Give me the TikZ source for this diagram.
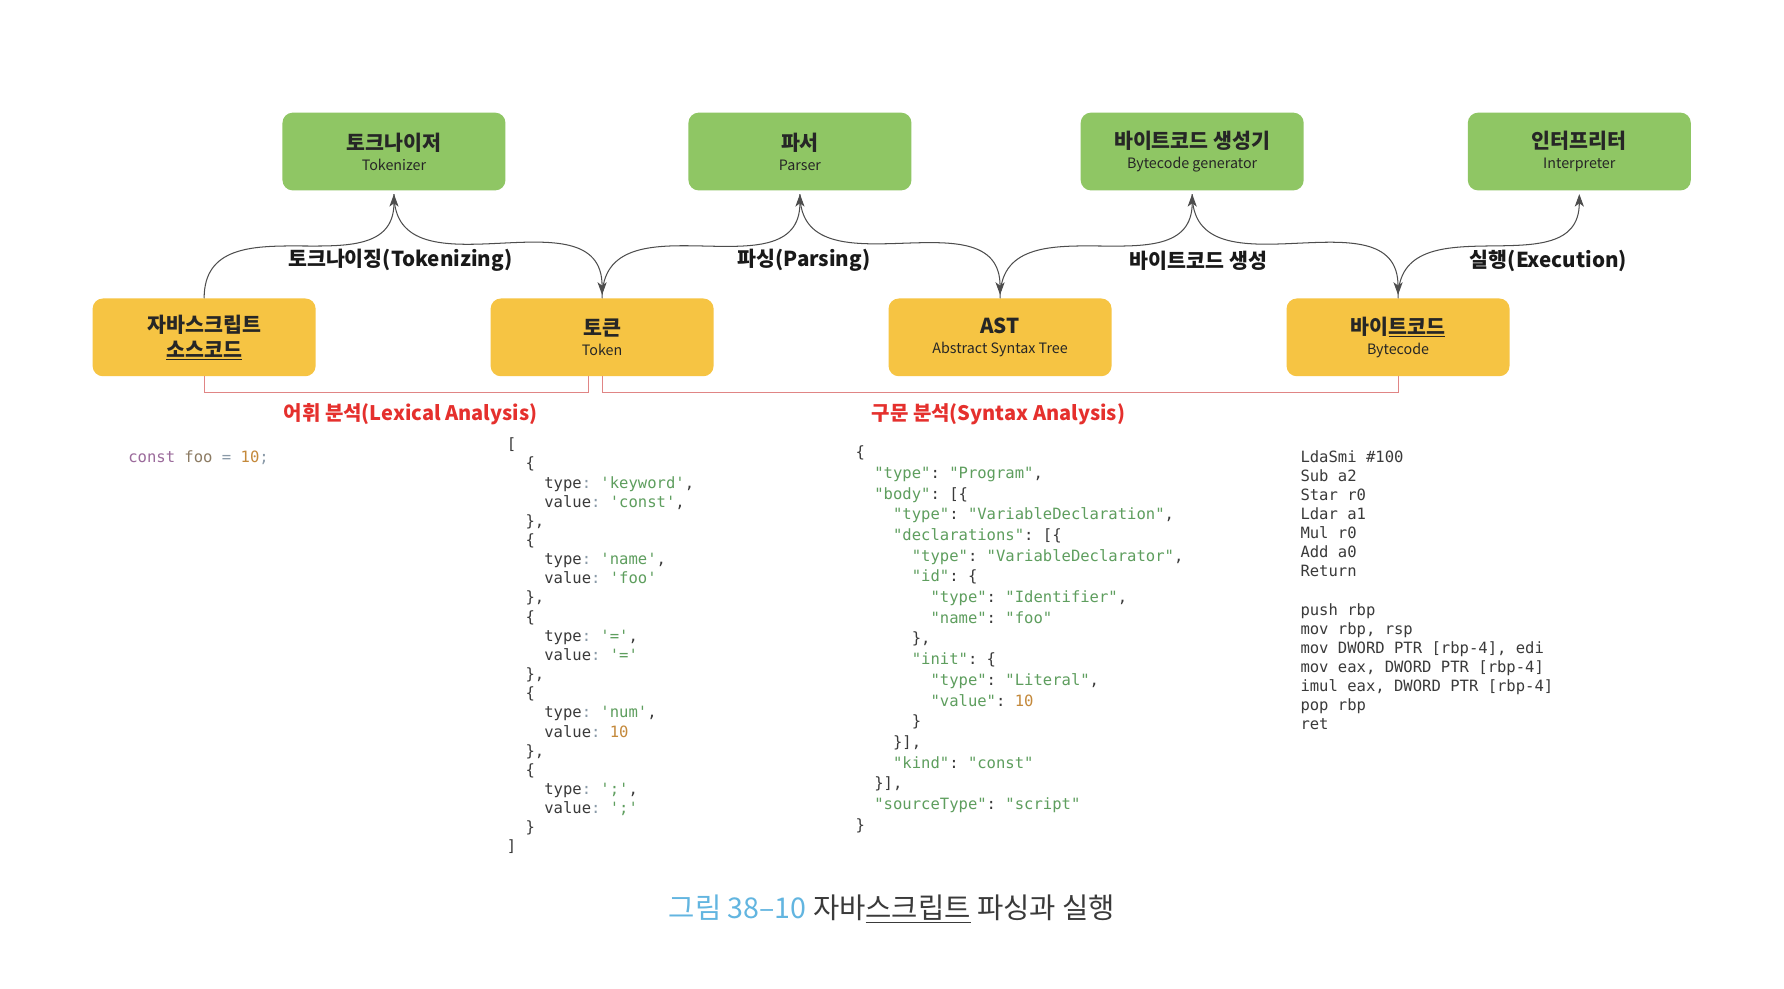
\documentclass[tikz,border=0pt]{standalone}
\usepackage{fontspec}
\setmainfont{Noto Sans CJK KR}
\setmonofont{DejaVu Sans Mono}
\usetikzlibrary{arrows.meta}
\definecolor{gboxc}{HTML}{8FC664}
\definecolor{yboxc}{HTML}{F6C443}
\definecolor{arrc}{HTML}{4D4D4D}
\definecolor{brkc}{HTML}{E08585}
\definecolor{redc}{HTML}{E5302D}
\definecolor{capblue}{HTML}{62B5E0}
\definecolor{captext}{HTML}{3A3A3A}
\definecolor{codec}{HTML}{3A3A3A}
\definecolor{cgreen}{HTML}{5E9E5E}
\definecolor{corange}{HTML}{C4893B}
\definecolor{cpurple}{HTML}{9B6A9B}
\definecolor{cfoo}{HTML}{8C7B63}
\definecolor{cgray}{HTML}{8A9AA8}
\newcommand\boxtitle[1]{{\fontsize{18}{18}\selectfont\bfseries #1}}
\newcommand\thinul[1]{\leavevmode\vtop{\hbox{#1}\kern1.2pt\hrule height 0.7pt}}
\newcommand\ind[1]{\hspace*{#1\fontcharwd\font`x}}
\newcommand\gs[1]{\textcolor{cgreen}{#1}}
\newcommand\os[1]{\textcolor{corange}{#1}}
\newcommand\cl{\textcolor{cgray}{:}}
\begin{document}
\begin{tikzpicture}[x=1pt,y=-1pt,
  boxbase/.style={rounded corners=9pt, minimum width=195pt, minimum height=68pt,
    inner sep=0pt, align=center, text=black!85, font=\fontsize{12.5}{17.5}\selectfont},
  gbox/.style={boxbase, fill=gboxc},
  ybox/.style={boxbase, fill=yboxc},
  flow/.style={draw=arrc, line width=0.9pt, -{Stealth[length=11pt,width=8pt,inset=3pt]},
    shorten >=3pt, looseness=1.2},
  steplabel/.style={font=\fontsize{18}{18}\selectfont\bfseries, text=black!90, inner sep=0pt},
  brk/.style={draw=brkc, line width=0.9pt},
  redlabel/.style={font=\fontsize{17.5}{18}\selectfont\bfseries, text=redc, inner sep=0pt},
  codeblk/.style={anchor=north west, inner sep=0pt, align=left, text=codec}
]
\fill[white] (0,0) rectangle (1560,864);
\useasboundingbox (0,0) rectangle (1560,864);

% top (green) boxes
\node[gbox] (tkz) at (344.5,132.5) {\boxtitle{토크나이저}\\Tokenizer};
\node[gbox] (psr) at (699.5,132.5) {\boxtitle{파서}\\Parser};
\node[gbox] (bcg) at (1042.5,132.5) {\boxtitle{바이트코드 생성기}\\Bytecode generator};
\node[gbox] (itp) at (1381,132.5) {\boxtitle{인터프리터}\\Interpreter};

% bottom (yellow) boxes
\node[ybox, font=\fontsize{18}{22}\selectfont\bfseries] (src) at (178.5,295) {자바스크립트\\\thinul{소스코드}};
\node[ybox] (tkn) at (526.5,295) {\boxtitle{토큰}\\Token};
\node[ybox] (ast) at (874.5,295) {\boxtitle{AST}\\Abstract Syntax Tree};
\node[ybox] (bc) at (1222.5,295) {\boxtitle{바이\thinul{트코드}}\\Bytecode};

% flow curves
\draw[flow] (src.north) to[out=90,in=-90] (tkz.south);
\draw[flow, shorten <=3pt] (tkz.south) to[out=-90,in=90] (tkn.north);
\draw[flow] (tkn.north) to[out=90,in=-90] (psr.south);
\draw[flow, shorten <=3pt] (psr.south) to[out=-90,in=90] (ast.north);
\draw[flow] (ast.north) to[out=90,in=-90] (bcg.south);
\draw[flow, shorten <=3pt] (bcg.south) to[out=-90,in=90] (bc.north);
\draw[flow] (bc.north) to[out=90,in=-90] (itp.south);

% step labels
\node[steplabel] (l1) at (350,228) {토크나이징(Tokenizing)};
\node[steplabel] (l2) at (703,228) {파싱(Parsing)};
\node[steplabel] (l3) at (1048,228) {바이트코드 생성};
\node[steplabel] (l4) at (1354,228) {실행(Execution)};

% brackets
\coordinate (bl) at (0,343);
\coordinate (tkl) at ([xshift=-12pt]tkn.south);
\draw[brk] (src.south) |- (tkl |- bl) -- (tkl);
\draw[brk] (tkn.south) |- (bc.south |- bl) -- (bc.south);
\node[redlabel] (lex) at (359,362) {어휘 분석(Lexical Analysis)};
\node[redlabel] (syn) at (873,362) {구문 분석(Syntax Analysis)};

% source code
\node[codeblk, font=\ttfamily\fontsize{13.6}{16.75}\selectfont] (code0) at (112,392.3)
 {\strut\textcolor{cpurple}{const} \textcolor{cfoo}{foo} \textcolor{cgray}{=} \os{10}\textcolor{cgray}{;}};

% tokens
\node[codeblk, font=\ttfamily\fontsize{13.6}{16.75}\selectfont] (code1) at (443,381.3)
 {\strut[\\
 \ind{2}\{\\
 \ind{4}type\cl{} \gs{'keyword'},\\
 \ind{4}value\cl{} \gs{'const'},\\
 \ind{2}\},\\
 \ind{2}\{\\
 \ind{4}type\cl{} \gs{'name'},\\
 \ind{4}value\cl{} \gs{'foo'}\\
 \ind{2}\},\\
 \ind{2}\{\\
 \ind{4}type\cl{} \gs{'='},\\
 \ind{4}value\cl{} \gs{'='}\\
 \ind{2}\},\\
 \ind{2}\{\\
 \ind{4}type\cl{} \gs{'num'},\\
 \ind{4}value\cl{} \os{10}\\
 \ind{2}\},\\
 \ind{2}\{\\
 \ind{4}type\cl{} \gs{';'},\\
 \ind{4}value\cl{} \gs{';'}\\
 \ind{2}\}\\
 \relax]};

% AST
\node[codeblk, font=\ttfamily\fontsize{13.6}{18.1}\selectfont] (code2) at (748,387.3)
 {\strut\{\\
 \ind{2}\gs{"type"}: \gs{"Program"},\\
 \ind{2}\gs{"body"}: [\{\\
 \ind{4}\gs{"type"}: \gs{"VariableDeclaration"},\\
 \ind{4}\gs{"declarations"}: [\{\\
 \ind{6}\gs{"type"}: \gs{"VariableDeclarator"},\\
 \ind{6}\gs{"id"}: \{\\
 \ind{8}\gs{"type"}: \gs{"Identifier"},\\
 \ind{8}\gs{"name"}: \gs{"foo"}\\
 \ind{6}\},\\
 \ind{6}\gs{"init"}: \{\\
 \ind{8}\gs{"type"}: \gs{"Literal"},\\
 \ind{8}\gs{"value"}: \os{10}\\
 \ind{6}\}\\
 \ind{4}\}],\\
 \ind{4}\gs{"kind"}: \gs{"const"}\\
 \ind{2}\}],\\
 \ind{2}\gs{"sourceType"}: \gs{"script"}\\
 \}};

% bytecode
\node[codeblk, font=\ttfamily\fontsize{13.6}{16.7}\selectfont] (code3) at (1137,392.3)
 {\strut LdaSmi \#100\\
 Sub a2\\
 Star r0\\
 Ldar a1\\
 Mul r0\\
 Add a0\\
 Return\\
 \strut\\
 push rbp\\
 mov rbp, rsp\\
 mov DWORD PTR [rbp-4], edi\\
 mov eax, DWORD PTR [rbp-4]\\
 imul eax, DWORD PTR [rbp-4]\\
 pop rbp\\
 ret};

% caption
\node[inner sep=0pt, font=\fontsize{25}{25}\selectfont, text=captext] (cap) at (780,795)
 {\textcolor{capblue}{그림 38–10} 자바\thinul{스크립트} 파싱과 실행};
\end{tikzpicture}
\end{document}
